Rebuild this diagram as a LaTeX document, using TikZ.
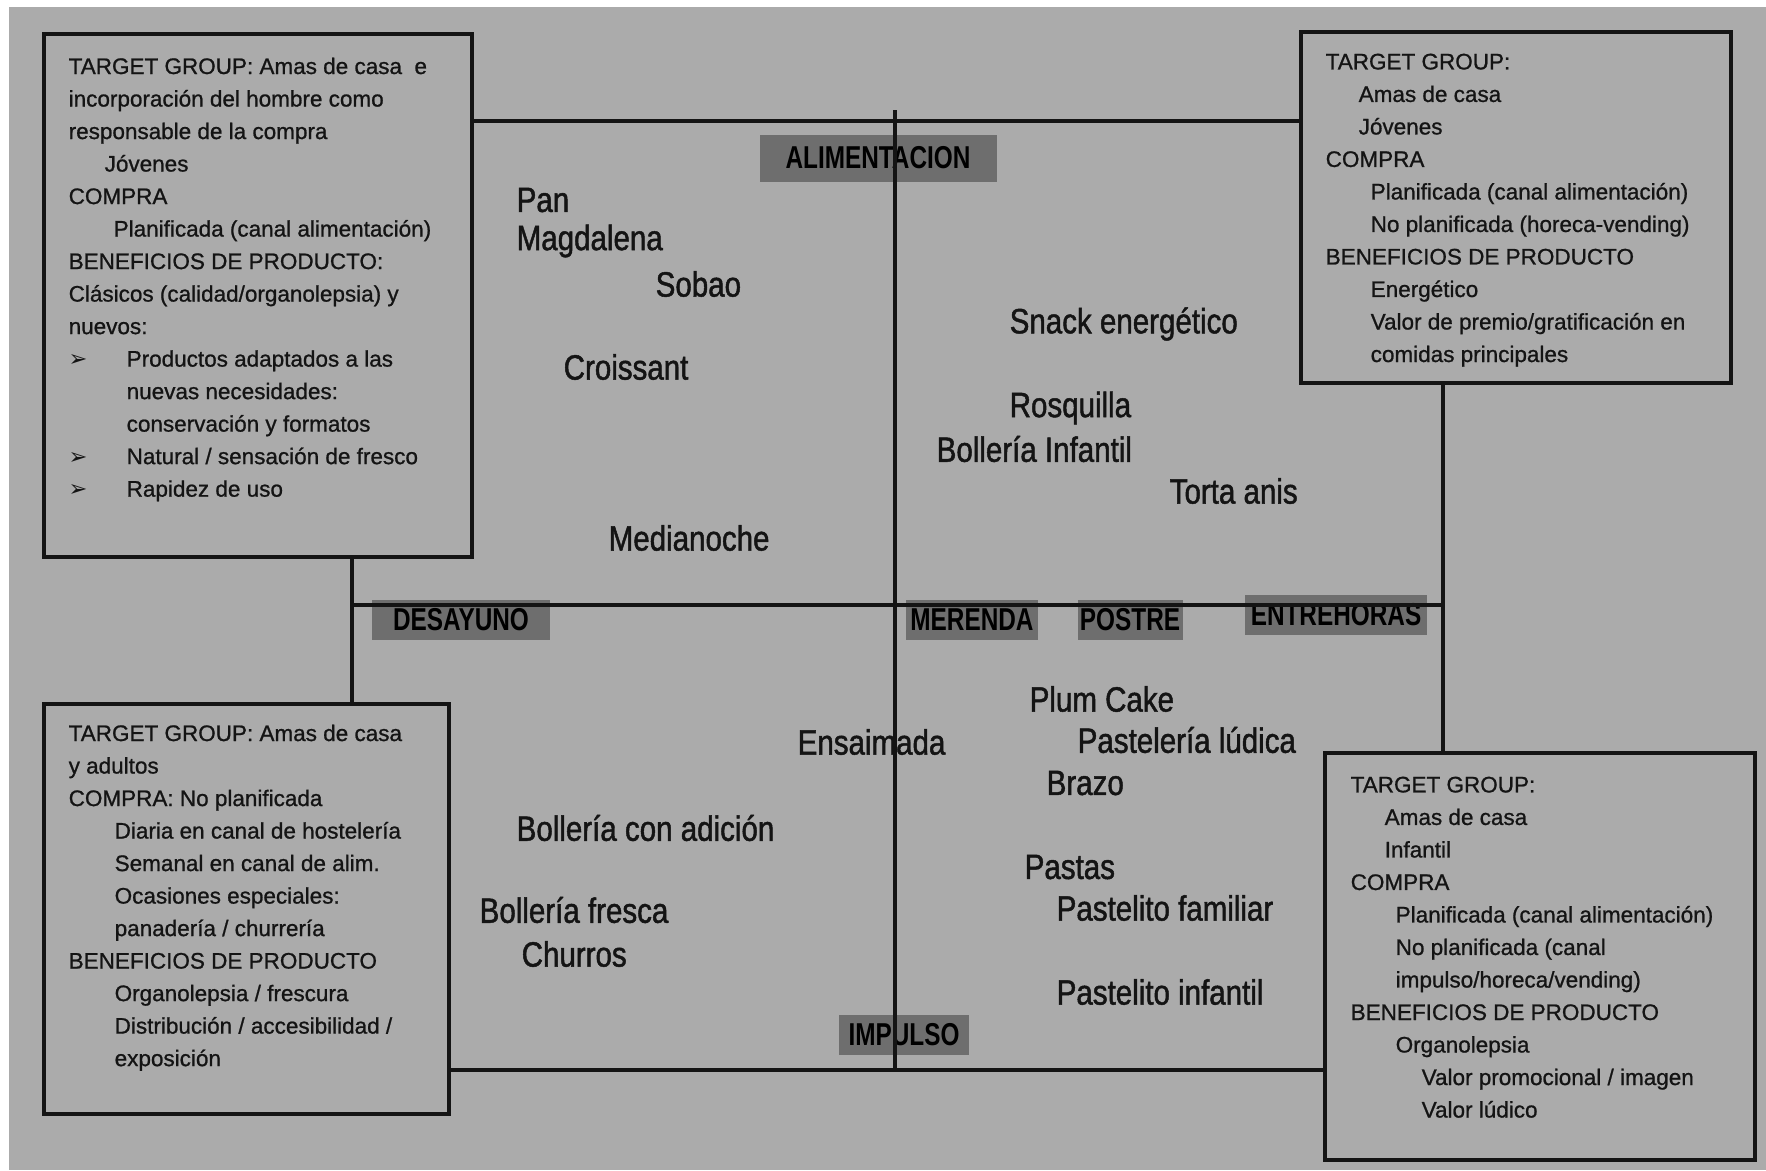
\documentclass[tikz,border=0pt]{standalone}
\usepackage{fontspec}
\setmainfont{Liberation Sans}[FakeBold=0.9]
\newfontfamily\itemfamily[FakeStretch=0.84,FakeBold=1.3]{Liberation Sans}
\newfontfamily\tagfamily[FakeStretch=0.77]{Liberation Sans}
\newfontfamily\symfamily{DejaVu Sans}
\newcommand\arrowbullet{\makebox[5.8mm][l]{{\symfamily\char"27A2}}}
\definecolor{paper}{HTML}{ABABAB}
\definecolor{tagfill}{HTML}{6E6E6E}
\definecolor{ink}{HTML}{141414}
\tikzset{
  rule/.style={draw=ink, line width=1.05pt},
  infobox/.style={draw=ink, line width=1.05pt, rectangle, inner sep=0pt, anchor=north west},
  infotext/.style={anchor=north west, align=left, inner sep=0pt, text=ink,
    font=\fontsize{6.4}{9.25}\selectfont},
  product/.style={anchor=west, inner sep=0pt, text=ink,
    font=\itemfamily\fontsize{10}{12}\selectfont},
  tag/.style={fill=tagfill, inner sep=0pt, text=black,
    font=\tagfamily\bfseries\fontsize{9}{10}\selectfont, minimum height=4.0mm}
}
\begin{document}
\begin{tikzpicture}[x=0.1mm, y=-0.1mm]
  % page and scanned paper tone
  \fill[white] (0,0) rectangle (1766,1170);
  \fill[paper] (9,7) rectangle (1766,1170);
  \useasboundingbox (0,0) rectangle (1766,1170);

  % the four profile boxes
  \node[infobox, minimum width=42.8mm, minimum height=52.3mm] (tl) at (42,32) {};
  \node[infobox, minimum width=43.0mm, minimum height=35.1mm] (tr) at (1299,30) {};
  \node[infobox, minimum width=40.5mm, minimum height=41.0mm] (bl) at (42,702) {};
  \node[infobox, minimum width=43.0mm, minimum height=40.7mm] (br) at (1323,751) {};

  % axis labels
  \node[tag, minimum width=23.7mm, minimum height=4.7mm] (alim) at (878,158) {ALIMENTACION};
  \node[tag, minimum width=17.8mm] (desa) at (461,620) {DESAYUNO};
  \node[tag, minimum width=13.2mm] (mere) at (972,620) {MERENDA};
  \node[tag, minimum width=10.5mm] (post) at (1130,620) {POSTRE};
  \node[tag, minimum width=18.2mm] (entr) at (1336,615) {ENTREHORAS};
  \node[tag, minimum width=13.0mm] (impu) at (904,1035) {IMPULSO};

  % grid references
  \coordinate (lx) at (352,0);
  \coordinate (rx) at (1443,0);
  \coordinate (ty) at (0,121);
  \coordinate (my) at (0,605);
  \coordinate (by) at (0,1070);
  \coordinate (vtop) at (895,110);
  \coordinate (vbot) at (895,1070);

  % frame lines joining the boxes and the two axes
  \draw[rule] (tl.east |- ty) -- (tr.west |- ty);
  \draw[rule] (bl.east |- by) -- (br.west |- by);
  \draw[rule] (tl.south -| lx) -- (bl.north -| lx);
  \draw[rule] (tr.south -| rx) -- (br.north -| rx);
  \draw[rule] (lx |- my) -- (rx |- my);
  \draw[rule] (vtop) -- (vbot);

  % box contents
  \node[infotext] (tlt) at (68,57) {TARGET GROUP: Amas de casa \ e\\
    incorporación del hombre como\\
    responsable de la compra\\
    \hspace*{3.6mm}Jóvenes\\
    COMPRA\\
    \hspace*{4.5mm}Planificada (canal alimentación)\\
    BENEFICIOS DE PRODUCTO:\\
    Clásicos (calidad/organolepsia) y\\
    nuevos:\\
    \arrowbullet Productos adaptados a las\\
    \hspace*{5.8mm}nuevas necesidades:\\
    \hspace*{5.8mm}conservación y formatos\\
    \arrowbullet Natural / sensación de fresco\\
    \arrowbullet Rapidez de uso};

  \node[infotext] (trt) at (1325,53) {TARGET GROUP:\\
    \hspace*{3.3mm}Amas de casa\\
    \hspace*{3.3mm}Jóvenes\\
    COMPRA\\
    \hspace*{4.5mm}Planificada (canal alimentación)\\
    \hspace*{4.5mm}No planificada (horeca-vending)\\
    BENEFICIOS DE PRODUCTO\\
    \hspace*{4.5mm}Energético\\
    \hspace*{4.5mm}Valor de premio/gratificación en\\
    \hspace*{4.5mm}comidas principales};

  \node[infotext] (blt) at (68,724) {TARGET GROUP: Amas de casa\\
    y adultos\\
    COMPRA: No planificada\\
    \hspace*{4.6mm}Diaria en canal de hostelería\\
    \hspace*{4.6mm}Semanal en canal de alim.\\
    \hspace*{4.6mm}Ocasiones especiales:\\
    \hspace*{4.6mm}panadería / churrería\\
    BENEFICIOS DE PRODUCTO\\
    \hspace*{4.6mm}Organolepsia / frescura\\
    \hspace*{4.6mm}Distribución / accesibilidad /\\
    \hspace*{4.6mm}exposición};

  \node[infotext] (brt) at (1350,776) {TARGET GROUP:\\
    \hspace*{3.4mm}Amas de casa\\
    \hspace*{3.4mm}Infantil\\
    COMPRA\\
    \hspace*{4.5mm}Planificada (canal alimentación)\\
    \hspace*{4.5mm}No planificada (canal\\
    \hspace*{4.5mm}impulso/horeca/vending)\\
    BENEFICIOS DE PRODUCTO\\
    \hspace*{4.5mm}Organolepsia\\
    \hspace*{7.1mm}Valor promocional / imagen\\
    \hspace*{7.1mm}Valor lúdico};

  % products placed on the map
  \node[product] (pan)  at (516,200) {Pan};
  \node[product] (magd) at (516,241) {Magdalena};
  \node[product] (soba) at (655,284) {Sobao};
  \node[product] (croi) at (563,367) {Croissant};
  \node[product] (medi) at (608,538) {Medianoche};
  \node[product] (snac) at (1009,324) {Snack energético};
  \node[product] (rosq) at (1009,408) {Rosquilla};
  \node[product] (boli) at (936,449) {Bollería Infantil};
  \node[product] (tort) at (1169,491) {Torta anis};
  \node[product] (ensa) at (797,742) {Ensaimada};
  \node[product] (plum) at (1029,699) {Plum Cake};
  \node[product] (pald) at (1077,740) {Pastelería lúdica};
  \node[product] (braz) at (1046,783) {Brazo};
  \node[product] (boad) at (516,828) {Bollería con adición};
  \node[product] (past) at (1024,867) {Pastas};
  \node[product] (pafa) at (1056,908) {Pastelito familiar};
  \node[product] (bofr) at (479,910) {Bollería fresca};
  \node[product] (chur) at (521,954) {Churros};
  \node[product] (pain) at (1056,992) {Pastelito infantil};
\end{tikzpicture}
\end{document}
